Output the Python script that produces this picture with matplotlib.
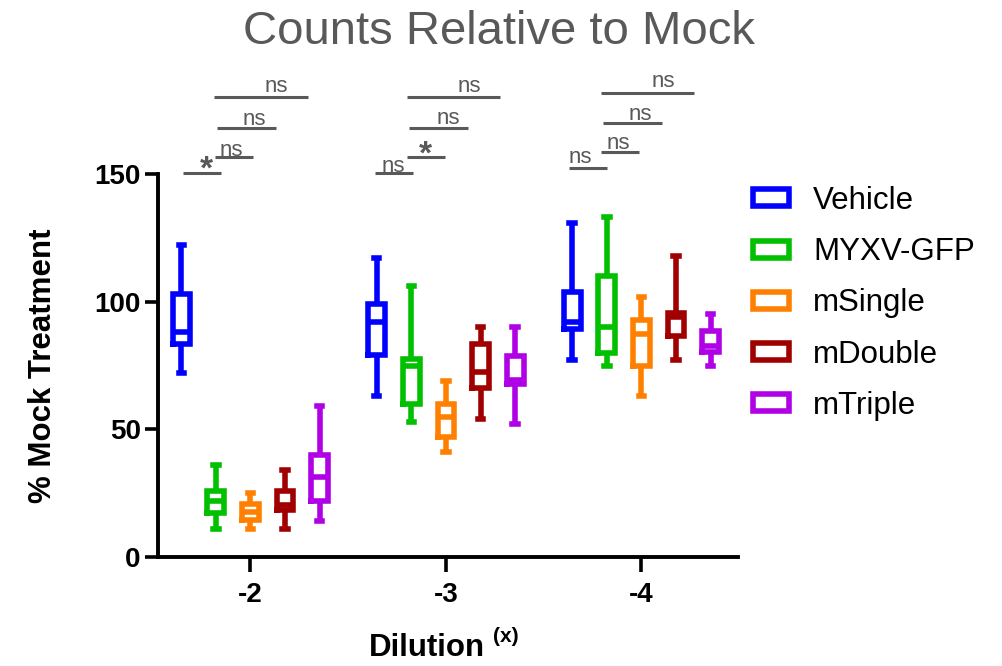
import matplotlib
matplotlib.use("Agg")
import matplotlib.pyplot as plt
from matplotlib.patches import Patch
import numpy as np

plt.rcParams['font.family'] = ['Liberation Sans', 'DejaVu Sans']

# ---------------- data ----------------
groups = ['-2', '-3', '-4']
series = ['Vehicle', 'MYXV-GFP', 'mSingle', 'mDouble', 'mTriple']
colors = ['#0000FF', '#00C000', '#FF8000', '#A00000', '#B000E6']

# per series: values for the three dilutions (-2, -3, -4)
whislo = {
    'Vehicle':  [72, 63, 77],
    'MYXV-GFP': [11, 53, 75],
    'mSingle':  [11, 41, 63],
    'mDouble':  [11, 54, 77],
    'mTriple':  [14, 52, 75],
}
q1 = {
    'Vehicle':  [83.4, 79.3, 89.1],
    'MYXV-GFP': [17.4, 59.9, 80.0],
    'mSingle':  [14.4, 47.0, 74.8],
    'mDouble':  [18.5, 66.3, 86.5],
    'mTriple':  [21.8, 67.6, 80.4],
}
med = {
    'Vehicle':  [88.0, 92.1, 91.9],
    'MYXV-GFP': [22.0, 74.8, 90.2],
    'mSingle':  [17.6, 54.9, 87.2],
    'mDouble':  [20.5, 72.5, 94.1],
    'mTriple':  [31.4, 69.5, 82.7],
}
q3 = {
    'Vehicle':  [102.9, 99.1, 103.9],
    'MYXV-GFP': [25.9, 77.5, 110.0],
    'mSingle':  [20.9, 60.1, 92.8],
    'mDouble':  [25.9, 83.6, 95.4],
    'mTriple':  [40.0, 78.7, 88.6],
}
whishi = {
    'Vehicle':  [122, 117, 131],
    'MYXV-GFP': [36, 106, 133],
    'mSingle':  [25, 69, 102],
    'mDouble':  [34, 90, 118],
    'mTriple':  [59, 90, 95],
}

# significance annotations: group index, bar start/end offset, bar level, label, text offset, text level
sig_group = [0, 0, 0, 0, 1, 1, 1, 1, 2, 2, 2, 2]
sig_x0 = [-0.347, -0.182, -0.173, -0.185, -0.363, -0.201, -0.188, -0.201, -0.371, -0.209, -0.195, -0.209]
sig_x1 = [-0.151, 0.014, 0.130, 0.293, -0.167, -0.005, 0.111, 0.276, -0.175, -0.011, 0.107, 0.270]
sig_y = [150.3, 156.6, 168.2, 180.0, 150.3, 156.6, 168.2, 180.0, 152.2, 158.5, 170.1, 181.7]
sig_label = ['*', 'ns', 'ns', 'ns', 'ns', '*', 'ns', 'ns', 'ns', 'ns', 'ns', 'ns']
sig_tx = [-0.224, -0.096, 0.018, 0.134, -0.270, -0.107, 0.012, 0.118, -0.315, -0.119, -0.008, 0.111]
sig_ty = [151.5, 156.9, 169.2, 182.2, 150.9, 157.4, 169.5, 182.2, 154.2, 159.7, 171.2, 184.2]

# ---------------- figure ----------------
fig = plt.figure(figsize=(10.02, 6.66), dpi=100)
ax = fig.add_axes([158 / 1002, 1 - 557 / 666, 580 / 1002, 383 / 666])

lw = 4.0
box_step = 0.177
box_w = 0.086
cap_w = 0.028
gx = np.arange(len(groups))

for si, s in enumerate(series):
    c = colors[si]
    stats = []
    for gi in range(len(groups)):
        stats.append(dict(med=med[s][gi], q1=q1[s][gi], q3=q3[s][gi],
                          whislo=whislo[s][gi], whishi=whishi[s][gi], fliers=[]))
    pos = gx + (si - 2) * box_step
    ax.bxp(stats, positions=pos, widths=box_w, capwidths=cap_w, showfliers=False,
           boxprops=dict(color=c, linewidth=lw, solid_joinstyle='miter'),
           medianprops=dict(color=c, linewidth=lw, solid_capstyle='butt'),
           whiskerprops=dict(color=c, linewidth=lw, solid_capstyle='butt'),
           capprops=dict(color=c, linewidth=lw, solid_capstyle='projecting'),
           manage_ticks=False)

ax.set_xlim(-0.473, 2.494)
ax.set_ylim(0, 150)
ax.set_xticks(gx)
ax.set_xticklabels(groups)
ax.set_yticks([0, 50, 100, 150])
for sp in ['top', 'right']:
    ax.spines[sp].set_visible(False)
for sp in ['left', 'bottom']:
    ax.spines[sp].set_linewidth(2.8)
    ax.spines[sp].set_capstyle('projecting')
ax.tick_params(axis='both', width=2.6, length=9.5, labelsize=20, colors='black')
ax.tick_params(axis='y', pad=3)
ax.tick_params(axis='x', pad=7, length=11)
for t in ax.get_xticklabels() + ax.get_yticklabels():
    t.set_fontweight('bold')

ax.set_ylabel('% Mock Treatment', fontsize=22.5, fontweight='bold', labelpad=26)
ax.set_xlabel('Dilution', fontsize=22.5, fontweight='bold')
ax.xaxis.set_label_coords(0.463, -0.198)
ax.annotate('(x)', xy=(1, 1), xycoords=ax.xaxis.label, xytext=(6, 4),
            textcoords='offset points', ha='left', va='top',
            fontsize=15, fontweight='bold')

fig.text(498.5 / 1002, 1 - 32 / 666, 'Counts Relative to Mock', ha='center', va='center',
         fontsize=34, color='#595959')

gray = '#595959'
for g, x0, x1, y, lab, tx, ty in zip(sig_group, sig_x0, sig_x1, sig_y, sig_label, sig_tx, sig_ty):
    ax.plot([g + x0, g + x1], [y, y], color=gray, lw=2.2, clip_on=False, solid_capstyle='butt')
    if lab == '*':
        ax.text(g + tx, ty, lab, ha='center', va='center', fontsize=24, fontweight='bold',
                color=gray, clip_on=False)
    else:
        ax.text(g + tx, ty, lab, ha='center', va='baseline', fontsize=16,
                color=gray, clip_on=False)

handles = [Patch(facecolor='white', edgecolor=c, linewidth=lw) for c in colors]
fig.legend(handles, series, loc='upper left', bbox_to_anchor=(753 / 1002, 1 - 186 / 666),
           frameon=False, fontsize=22.5, handlelength=1.15, handleheight=0.47,
           handletextpad=0.78, labelspacing=0.68, borderpad=0, borderaxespad=0)

fig.savefig('out.png', dpi=100)
